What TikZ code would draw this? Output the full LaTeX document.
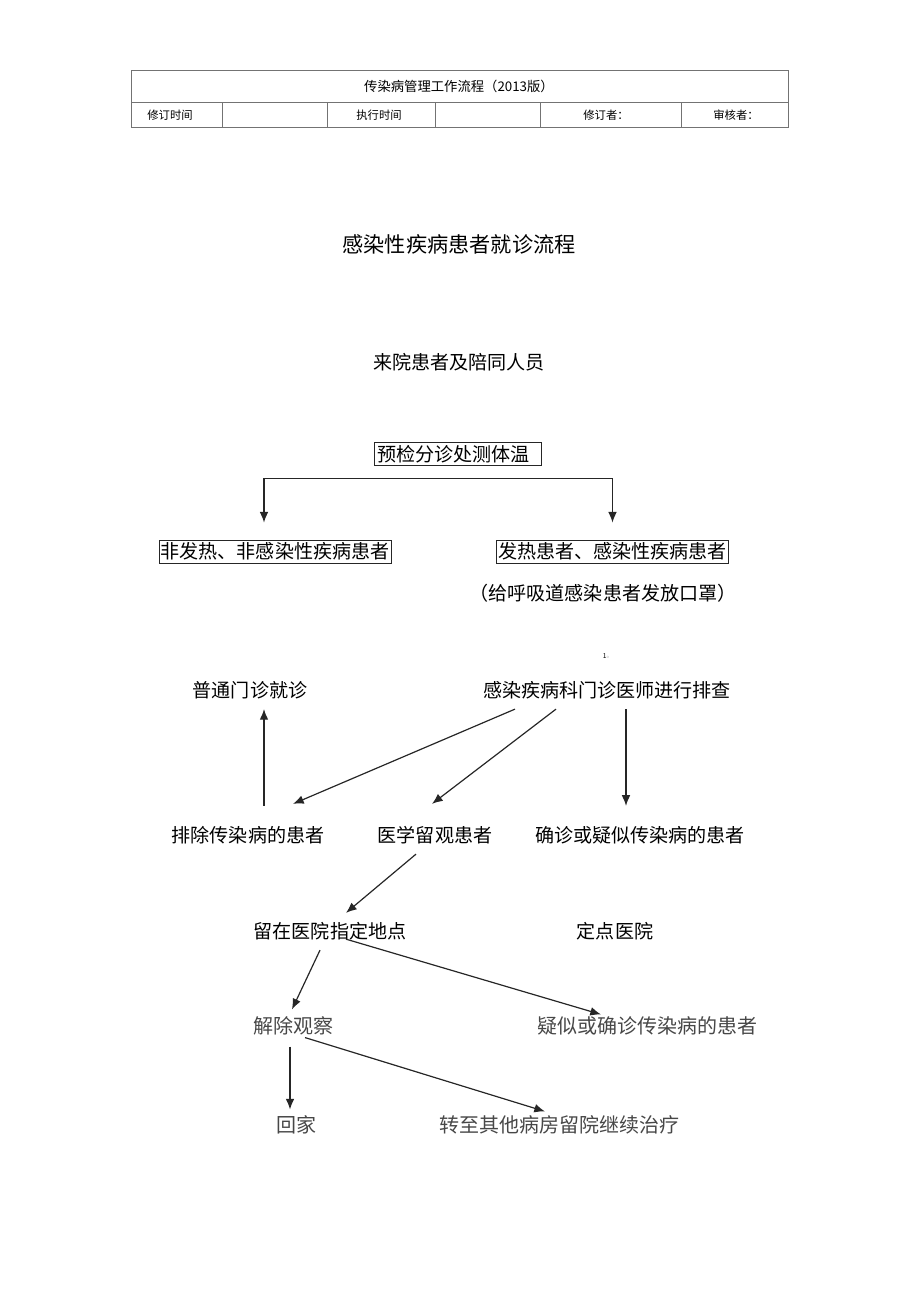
\documentclass[tikz,border=0pt]{standalone}
\usepackage{fontspec}
\setmainfont{Noto Sans CJK SC}
\usetikzlibrary{arrows.meta,calc}
\begin{document}
\begin{tikzpicture}[x=0.75pt,y=-0.75pt,
  txt/.style={inner sep=0pt, font=\fontsize{14.3}{16}\selectfont},
  gtxt/.style={inner sep=0pt, text=black!72, font=\fontsize{15}{17}\selectfont},
  bx/.style={txt, draw=black!85, line width=0.6pt, inner xsep=1.2pt, inner ysep=0pt, minimum height=17.25pt},
  hd/.style={inner sep=0pt, font=\fontsize{8.5}{10}\selectfont},
  tbl/.style={draw=black!55, line width=0.5pt},
  arr/.style={draw=black!85, line width=0.9pt, -{Latex[length=8pt,width=6.5pt]}}
]
\useasboundingbox (0,0) rectangle (920,1303);
% header table
\draw[tbl] (131,70) rectangle (788,127);
\draw[tbl] (131,102) -- (788,102);
\foreach \x in {222,327,435,540,681} \draw[tbl] (\x,102) -- (\x,127);
\node[inner sep=0pt, font=\fontsize{10}{12}\selectfont] (ht) at (459,86) {传染病管理工作流程（2013版）};
\node[hd] (h1) at (170,115) {修订时间};
\node[hd] (h2) at (379,115) {执行时间};
\node[hd] (h3) at (606,115) {修订者：};
\node[hd] (h4) at (736,115) {审核者：};

% title
\node[inner sep=0pt, font=\fontsize{15.9}{18}\selectfont] (title) at (459,244) {感染性疾病患者就诊流程};
\node[txt] (ly) at (459,362) {来院患者及陪同人员};

% triage box
\node[txt, draw=black!85, line width=0.6pt, inner sep=2.25pt, minimum height=16.5pt, anchor=west] (pj) at (374,454) {\makebox[120.75pt][l]{预检分诊处测体温}};
\node[bx] (nf) at (275,551.5) {非发热、非感染性疾病患者};
\node[bx] (fr) at (612.5,551.5) {发热患者、感染性疾病患者};
\coordinate (split) at ($(pj.south)+(0,12)$);
\draw[arr] (split) -| ($(nf.north)+(-11,-17)$);
\draw[arr] (split) -| ($(fr.north)+(0,-17)$);
\node[txt] (mask) at (603,593) {（给呼吸道感染患者发放口罩）};
\node[inner sep=0pt, font=\fontsize{5}{6}\selectfont] (one) at (606,656) {1\textcolor{black!30}{\fontsize{3}{4}\selectfont o}};

% second level
\node[txt] (pt) at (250,690) {普通门诊就诊};
\node[txt] (pc) at (607,690) {感染疾病科门诊医师进行排查};
\node[txt] (pc1) at (248,835) {排除传染病的患者};
\node[txt] (yx) at (435,835) {医学留观患者};
\node[txt] (qz) at (640,835) {确诊或疑似传染病的患者};
\draw[arr] ($(pc.south)+(-92,10)$) -- ($(pc1.north)+(45,-22)$);
\draw[arr] ($(pc.south)+(-51,10)$) -- ($(yx.north)+(-3,-22)$);
\draw[arr] ($(pc.south)+(19,10)$) -- ($(qz.north)+(-14,-20)$);
\draw[arr] ($(pc1.north)+(16,-20)$) -- ($(pt.south)+(14,10)$);

% third level
\node[txt] (ld) at (330,931) {留在医院指定地点};
\node[txt] (dd) at (615,931) {定点医院};
\draw[arr] ($(yx.south)+(-19,10)$) -- ($(ld.north)+(16,-9)$);

\node[gtxt] (jc) at (293,1026) {解除观察};
\node[gtxt] (ys) at (647,1026) {疑似或确诊传染病的患者};
\draw[arr] ($(ld.south)+(-10,10)$) -- ($(jc.north)+(-1,-7)$);
\draw[arr] ($(ld.south)+(16,-1)$) -- ($(ys.north)+(-46,-2)$);

\node[gtxt] (hj) at (296,1125) {回家};
\node[gtxt] (zz) at (559,1125) {转至其他病房留院继续治疗};
\draw[arr] ($(jc.south)+(-3,11)$) -- ($(hj.north)+(-6,-6)$);
\draw[arr] ($(jc.south)+(12,2)$) -- ($(zz.north)+(-14,-4)$);
\end{tikzpicture}
\end{document}
